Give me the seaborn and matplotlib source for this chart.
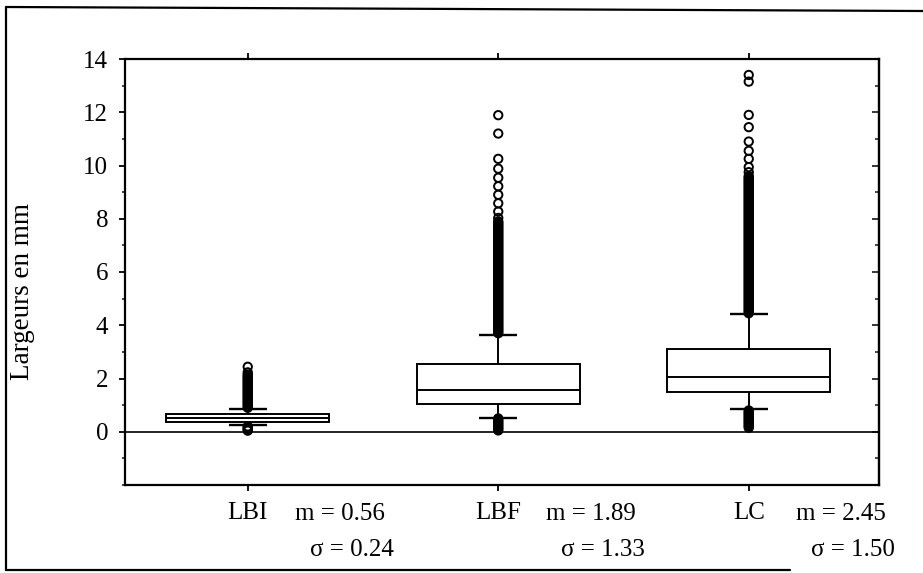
import matplotlib
matplotlib.use("Agg")
import matplotlib.pyplot as plt
from matplotlib.lines import Line2D
from matplotlib.ticker import MultipleLocator
import pandas as pd
import seaborn as sns

# Box statistics per width class (mm)
groups = ["LBI", "LBF", "LC"]
whisker_low = [0.24, 0.53, 0.84]
quartile_1 = [0.37, 1.05, 1.48]
medians = [0.52, 1.57, 2.07]
quartile_3 = [0.67, 2.53, 3.12]
whisker_high = [0.87, 3.65, 4.42]

# Mean and standard deviation printed under each box
means = [0.56, 1.89, 2.45]
std_devs = [0.24, 1.33, 1.50]

# Values lying beyond the whiskers
outliers_lbi = [
    0.04, 0.08, 0.12, 0.16, 0.20,
    0.90, 0.95, 1.00, 1.05, 1.10, 1.15, 1.20, 1.25, 1.30, 1.35, 1.40, 1.45,
    1.50, 1.55, 1.60, 1.65, 1.70, 1.75, 1.80, 1.85, 1.90, 1.95, 2.00, 2.05,
    2.10, 2.15, 2.23, 2.44,
]
outliers_lbf = [
    0.05, 0.10, 0.15, 0.20, 0.25, 0.30, 0.35, 0.40, 0.45, 0.50,
    3.70, 3.75, 3.80, 3.85, 3.90, 3.95,
    4.00, 4.05, 4.10, 4.15, 4.20, 4.25, 4.30, 4.35, 4.40, 4.45,
    4.50, 4.55, 4.60, 4.65, 4.70, 4.75, 4.80, 4.85, 4.90, 4.95,
    5.00, 5.05, 5.10, 5.15, 5.20, 5.25, 5.30, 5.35, 5.40, 5.45,
    5.50, 5.55, 5.60, 5.65, 5.70, 5.75, 5.80, 5.85, 5.90, 5.95,
    6.00, 6.05, 6.10, 6.15, 6.20, 6.25, 6.30, 6.35, 6.40, 6.45,
    6.50, 6.55, 6.60, 6.65, 6.70, 6.75, 6.80, 6.85, 6.90, 6.95,
    7.00, 7.05, 7.10, 7.15, 7.20, 7.25, 7.30, 7.35, 7.40, 7.45,
    7.50, 7.55, 7.60, 7.65, 7.70, 7.75, 7.80, 7.85, 7.90,
    8.03, 8.27, 8.58, 8.90, 9.22, 9.54, 9.88, 10.25, 11.20, 11.89,
]
outliers_lc = [
    0.15, 0.20, 0.25, 0.30, 0.35, 0.40, 0.45, 0.50, 0.55, 0.60, 0.65,
    0.70, 0.75, 0.80,
    4.45, 4.50, 4.55, 4.60, 4.65, 4.70, 4.75, 4.80, 4.85, 4.90, 4.95,
    5.00, 5.05, 5.10, 5.15, 5.20, 5.25, 5.30, 5.35, 5.40, 5.45,
    5.50, 5.55, 5.60, 5.65, 5.70, 5.75, 5.80, 5.85, 5.90, 5.95,
    6.00, 6.05, 6.10, 6.15, 6.20, 6.25, 6.30, 6.35, 6.40, 6.45,
    6.50, 6.55, 6.60, 6.65, 6.70, 6.75, 6.80, 6.85, 6.90, 6.95,
    7.00, 7.05, 7.10, 7.15, 7.20, 7.25, 7.30, 7.35, 7.40, 7.45,
    7.50, 7.55, 7.60, 7.65, 7.70, 7.75, 7.80, 7.85, 7.90, 7.95,
    8.00, 8.05, 8.10, 8.15, 8.20, 8.25, 8.30, 8.35, 8.40, 8.45,
    8.50, 8.55, 8.60, 8.65, 8.70, 8.75, 8.80, 8.85, 8.90, 8.95,
    9.00, 9.05, 9.10, 9.15, 9.20, 9.25, 9.30, 9.35, 9.40, 9.45,
    9.50, 9.55, 9.60,
    9.75, 9.94, 10.25, 10.55, 10.90, 11.44, 11.90, 13.15, 13.40,
]

y_ticks = [0, 2, 4, 6, 8, 10, 12, 14]

sns.set_theme(style="ticks")
plt.rcParams["font.family"] = ["Liberation Serif", "DejaVu Serif"]

W, H = 923, 573
fig = plt.figure(figsize=(W / 100, H / 100), dpi=100)
ax = fig.add_axes([125 / W, 1 - 485 / H, (879 - 125) / W, (485 - 59) / H])

# five-number summary per group -> box, median and whiskers
box_rows = []
for g, lo, a, m, b, hi in zip(groups, whisker_low, quartile_1, medians,
                              quartile_3, whisker_high):
    for v in (lo, a, m, b, hi):
        box_rows.append({"groupe": g, "largeur": v})
box_df = pd.DataFrame(box_rows)

ax.axhline(0, color="black", lw=1.2, zorder=1)

sns.boxplot(data=box_df, x="groupe", y="largeur", order=groups,
            whis=(0, 100), width=0.65, color="white", linecolor="black",
            linewidth=1.4, saturation=1, showfliers=False, showcaps=False,
            ax=ax)

out_df = pd.DataFrame({
    "groupe": (["LBI"] * len(outliers_lbi) + ["LBF"] * len(outliers_lbf)
               + ["LC"] * len(outliers_lc)),
    "largeur": outliers_lbi + outliers_lbf + outliers_lc,
})
n_before = len(ax.collections)
sns.stripplot(data=out_df, x="groupe", y="largeur", order=groups,
              jitter=False, size=6, color="black", edgecolor="black",
              linewidth=1.4, ax=ax)
for coll in ax.collections[n_before:]:
    coll.set_facecolor("none")
    coll.set_edgecolor("black")
    coll.set_linewidth(1.4)
    coll.set_zorder(2.5)

# whisker caps
positions = range(len(groups))
ax.hlines(whisker_low, [p - 0.075 for p in positions],
          [p + 0.075 for p in positions], color="black", lw=1.7, zorder=3)
ax.hlines(whisker_high, [p - 0.075 for p in positions],
          [p + 0.075 for p in positions], color="black", lw=1.7, zorder=3)

ax.set_xlim(-0.49, 2.52)
ax.set_ylim(-2, 14)
ax.set_yticks(y_ticks)
ax.yaxis.set_minor_locator(MultipleLocator(1))
ax.set_xlabel("")
ax.set_ylabel("")

for side in ("left", "right", "top", "bottom"):
    ax.spines[side].set_visible(True)
    ax.spines[side].set_linewidth(1.6)
    ax.spines[side].set_color("black")

ax.tick_params(axis="x", which="major", direction="out", length=4.5,
               width=1.3, top=True, labelsize=18, pad=8, colors="black")
ax.tick_params(axis="y", which="major", direction="out", length=4,
               width=1.3, right=False, labelsize=18, pad=8, colors="black")
ax.tick_params(axis="y", which="minor", direction="out", length=2,
               width=1.2, right=False, left=True)

# right-hand axis with inward ticks, no labels
sec = ax.secondary_yaxis("right")
sec.set_yticks(y_ticks)
sec.yaxis.set_minor_locator(MultipleLocator(1))
sec.tick_params(axis="y", which="major", direction="in", length=5,
                width=1.3, labelright=False)
sec.tick_params(axis="y", which="minor", direction="in", length=3,
                width=1.2)
sec.spines["right"].set_linewidth(1.6)

# statistics under each category
trans = ax.get_xaxis_transform()
for i, (m, s) in enumerate(zip(means, std_devs)):
    ax.text(i + 0.19, -0.068, f"m = {m:.2f}", transform=trans,
            ha="left", va="center", fontsize=18, color="black")
    ax.text(i + 0.585, -0.153, f"\u03c3 = {s:.2f}", transform=trans,
            ha="right", va="center", fontsize=18, color="black")

fig.text(23 / W, 1 - 292 / H, "Largeurs en mm", rotation=90,
         ha="center", va="center", fontsize=19.5, color="black")

# outer frame
frame_kw = dict(color="black", lw=1.6, transform=fig.transFigure)
fig.add_artist(Line2D([6 / W, 1.0], [1 - 7 / H, 1 - 11 / H], **frame_kw))
fig.add_artist(Line2D([6 / W, 6 / W], [1 - 7 / H, 1 - 570 / H], **frame_kw))
fig.add_artist(Line2D([6 / W, 790 / W], [1 - 570 / H, 1 - 570 / H],
                      **frame_kw))

fig.savefig("out.png", dpi=100)
